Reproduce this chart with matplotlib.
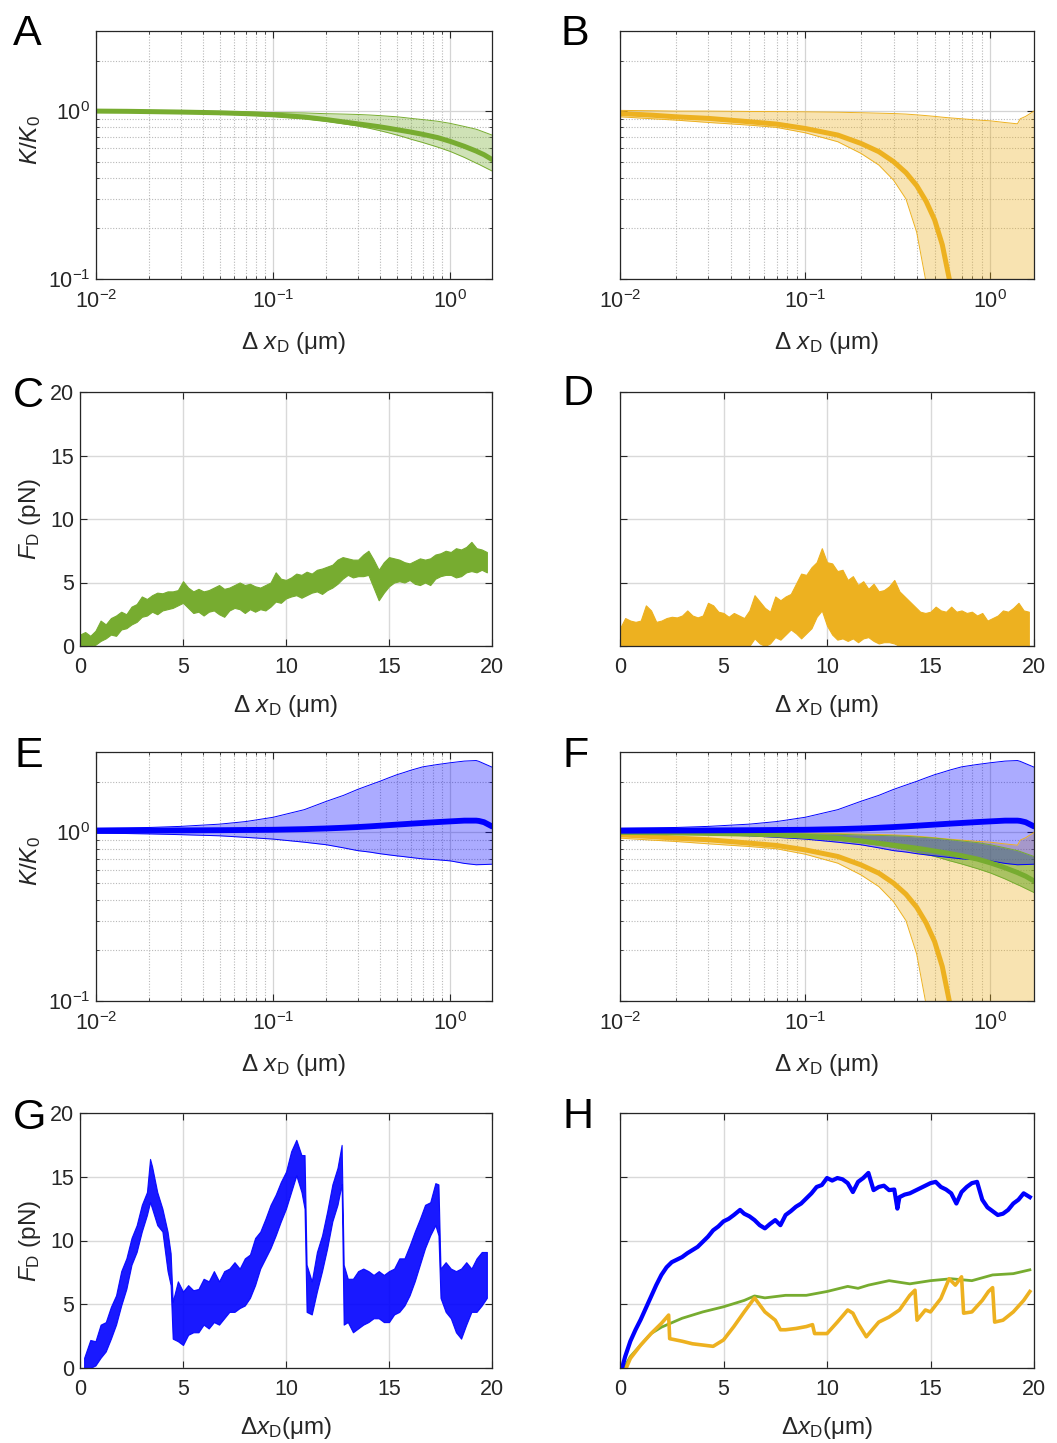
import matplotlib
matplotlib.use("Agg")
import matplotlib.pyplot as plt
import numpy as np
from matplotlib.ticker import LogLocator, NullFormatter

plt.rcParams["font.family"] = ["Liberation Sans", "DejaVu Sans"]
plt.rcParams["mathtext.fontset"] = "custom"
plt.rcParams["mathtext.rm"] = "Liberation Sans"
plt.rcParams["mathtext.it"] = "Liberation Sans:italic"
plt.rcParams["mathtext.bf"] = "Liberation Sans:bold"

GREEN = "#77AC30"
ORANGE = "#EDB120"
BLUE = "#0000FF"
INK = "#262626"

# --- K/K0 vs displacement (log-log), mean and band -----------------------
LOG_X = [0.01, 0.015, 0.02, 0.03, 0.05, 0.07, 0.1, 0.15, 0.2, 0.25, 0.3, 0.35,
         0.4, 0.45, 0.5, 0.55, 0.6, 0.7, 0.85, 1.0, 1.2, 1.4, 1.45, 1.55, 1.72]

GREEN_MID = [1.0, 0.997, 0.993, 0.987, 0.977, 0.966, 0.95, 0.922, 0.89, 0.862, 0.84, 0.822,
             0.806, 0.79, 0.775, 0.762, 0.75, 0.727, 0.695, 0.66, 0.617, 0.578, 0.568, 0.55, 0.515]
GREEN_HI = [1.005, 1.005, 1.0, 1.0, 0.995, 0.99, 0.98, 0.975, 0.965, 0.96, 0.955, 0.948,
            0.94, 0.932, 0.925, 0.915, 0.905, 0.89, 0.87, 0.845, 0.81, 0.78, 0.77, 0.75, 0.72]
GREEN_LO = [0.995, 0.99, 0.985, 0.978, 0.965, 0.95, 0.93, 0.9, 0.87, 0.84, 0.815, 0.79,
            0.765, 0.742, 0.72, 0.70, 0.68, 0.65, 0.61, 0.575, 0.53, 0.49, 0.482, 0.465, 0.44]

ORANGE_MID = [0.968, 0.945, 0.925, 0.905, 0.864, 0.837, 0.788, 0.72, 0.642, 0.573, 0.50, 0.43,
              0.36, 0.29, 0.225, 0.16, 0.1, 0.04, 0.02, 0.02, 0.02, 0.02, 0.02, 0.02, 0.02]
ORANGE_HI = [1.01, 1.005, 1.0, 1.0, 0.995, 0.993, 0.99, 0.985, 0.978, 0.972, 0.967, 0.96,
             0.95, 0.94, 0.93, 0.92, 0.912, 0.90, 0.885, 0.875, 0.855, 0.84, 0.90, 0.93, 1.0]
ORANGE_LO = [0.925, 0.90, 0.884, 0.856, 0.825, 0.80, 0.743, 0.657, 0.56, 0.477, 0.388, 0.30,
             0.19, 0.095, 0.05, 0.05, 0.05, 0.05, 0.05, 0.05, 0.05, 0.05, 0.05, 0.05, 0.05]

BLUE_MID = [1.023, 1.025, 1.026, 1.028, 1.031, 1.034, 1.037, 1.046, 1.056, 1.066, 1.076, 1.086,
            1.096, 1.105, 1.113, 1.12, 1.127, 1.138, 1.152, 1.163, 1.175, 1.175, 1.17, 1.15, 1.086]
BLUE_HI = [1.06, 1.065, 1.07, 1.086, 1.12, 1.16, 1.23, 1.365, 1.53, 1.66, 1.8, 1.91,
           2.01, 2.11, 2.2, 2.27, 2.34, 2.45, 2.53, 2.59, 2.65, 2.67, 2.64, 2.56, 2.44]
BLUE_LO = [0.99, 0.985, 0.98, 0.97, 0.955, 0.935, 0.913, 0.875, 0.845, 0.81, 0.78, 0.765,
           0.748, 0.736, 0.726, 0.718, 0.71, 0.697, 0.688, 0.678, 0.655, 0.643, 0.644, 0.645, 0.648]

# --- force traces (noise envelope: low / high) ----------------------------
TRACE_X = np.arange(0, 20, 0.25)

C_HI = [0.9, 1.1, 0.8, 1.2, 2.0, 1.7, 2.2, 2.4, 2.7, 2.5, 3.1, 3.3, 3.9, 3.7, 4.0, 4.2,
        4.15, 4.3, 4.3, 4.4, 5.1, 4.6, 4.3, 4.5, 4.3, 4.4, 4.6, 4.8, 4.5, 4.6, 4.8, 5.0,
        4.8, 4.9, 4.7, 4.6, 4.8, 5.0, 5.8, 5.3, 5.2, 5.4, 5.7, 5.6, 5.85, 5.7, 6.0, 6.1,
        6.25, 6.4, 6.8, 7.0, 6.9, 6.8, 6.8, 7.2, 7.5, 6.8, 6.0, 6.6, 7.0, 6.9, 6.8, 6.6,
        6.5, 6.7, 6.9, 6.8, 6.9, 7.2, 7.3, 7.5, 7.4, 7.7, 7.6, 7.8, 8.2, 7.7, 7.6, 7.4]
C_LO = [0.0, 0.0, 0.0, 0.1, 0.4, 0.6, 0.9, 0.8, 1.3, 1.4, 1.7, 1.9, 2.3, 2.4, 2.7, 2.5,
        2.8, 2.9, 3.0, 3.2, 3.4, 3.0, 2.6, 2.7, 2.4, 2.7, 2.8, 2.5, 2.3, 2.8, 3.0, 2.9,
        2.6, 2.9, 2.7, 2.9, 2.8, 3.1, 3.5, 3.4, 3.75, 3.9, 4.0, 3.8, 4.0, 4.2, 4.3, 4.1,
        4.4, 4.6, 4.9, 5.3, 5.6, 5.4, 5.5, 5.5, 5.6, 4.6, 3.6, 4.2, 4.7, 5.0, 5.1, 5.0,
        5.2, 4.9, 4.8, 5.0, 4.8, 5.3, 5.5, 5.6, 5.6, 5.4, 5.5, 5.8, 5.9, 5.8, 6.0, 5.8]

D_HI = [1.4, 2.2, 2.0, 1.9, 2.0, 3.2, 2.8, 1.9, 2.0, 2.2, 2.3, 2.25, 2.4, 2.8, 2.4, 2.25,
        2.4, 3.4, 3.2, 2.7, 2.6, 2.3, 2.6, 2.4, 2.2, 2.8, 4.0, 3.5, 3.0, 2.7, 3.9, 3.6,
        3.9, 4.1, 4.9, 5.7, 5.6, 6.2, 6.6, 7.7, 6.6, 6.5, 5.9, 6.0, 5.2, 5.5, 4.8, 5.1,
        4.5, 4.9, 4.3, 4.4, 4.7, 5.2, 4.3, 3.9, 3.5, 3.1, 2.7, 2.6, 2.7, 3.1, 2.8, 2.7,
        3.1, 2.7, 2.8, 2.6, 2.7, 2.4, 2.6, 2.0, 2.2, 2.4, 2.8, 2.7, 3.0, 3.4, 2.8, 2.7]
D_LO = [0.0] * 26 + [0.6, 0.2, 0.0, 0.2, 0.7, 0.5, 0.9, 1.3, 1.0, 0.6, 1.0, 1.4, 2.3, 2.8,
                     1.6, 0.9, 0.5, 0.6, 0.4, 0.6, 0.3, 0.6, 0.7, 0.4, 0.2, 0.3, 0.3, 0.2] + [0.0] * 26

G_X = [0.2, 0.5, 0.75, 1.0, 1.25, 1.5, 1.75, 2.0, 2.25, 2.5, 2.75, 3.0, 3.25, 3.4, 3.5,
       3.75, 4.0, 4.25, 4.4, 4.5, 4.75, 5.0, 5.25, 5.5, 5.75, 6.0, 6.25, 6.5, 6.75, 7.0,
       7.25, 7.5, 7.75, 8.0, 8.25, 8.5, 8.75, 9.0, 9.25, 9.5, 9.75, 10.0, 10.25, 10.5, 10.75,
       10.9, 11.0, 11.25, 11.5, 11.75, 12.0, 12.25, 12.5, 12.7, 12.8, 13.0, 13.25, 13.5, 13.75, 14.0,
       14.25, 14.5, 14.75, 15.0, 15.25, 15.5, 15.75, 16.0, 16.25, 16.5, 16.75, 17.0, 17.25, 17.4, 17.5,
       17.75, 18.0, 18.25, 18.5, 18.75, 19.0, 19.25, 19.5, 19.75]
G_HI = [0.8, 2.2, 2.1, 3.4, 3.6, 4.8, 5.7, 7.6, 8.6, 10.2, 11.2, 12.8, 13.8, 16.4, 15.8,
        13.8, 12.5, 10.7, 9.0, 5.2, 6.8, 6.0, 6.5, 6.1, 6.2, 7.0, 6.8, 7.6, 6.8, 7.6,
        7.8, 8.3, 7.8, 8.6, 8.9, 10.2, 10.7, 11.7, 12.8, 13.6, 14.6, 15.4, 17.0, 17.9, 16.7,
        16.7, 8.1, 6.8, 9.1, 10.4, 12.3, 14.4, 15.7, 17.5, 8.1, 7.0, 7.0, 7.6, 7.8, 7.6,
        7.3, 7.6, 7.3, 7.6, 7.8, 8.6, 8.6, 9.6, 10.7, 11.7, 12.8, 13.0, 14.5, 14.4, 7.8,
        8.3, 7.8, 7.6, 7.8, 8.3, 7.8, 8.6, 9.1, 9.1]
G_LO = [0.0, 0.0, 0.2, 0.8, 1.3, 2.3, 3.4, 4.9, 6.2, 8.1, 9.1, 10.7, 12.0, 13.0, 12.5,
        11.2, 10.7, 7.6, 6.5, 2.3, 2.1, 1.8, 2.6, 2.8, 2.8, 3.4, 3.1, 3.6, 3.4, 3.9,
        4.4, 4.4, 4.7, 4.9, 5.5, 6.5, 7.8, 8.6, 9.4, 10.4, 11.5, 12.5, 13.8, 15.1, 13.8,
        12.5, 4.4, 4.2, 6.0, 7.6, 9.4, 11.5, 12.8, 14.4, 3.4, 3.6, 2.8, 3.1, 3.4, 3.6,
        3.9, 3.9, 3.6, 3.6, 4.2, 4.4, 4.9, 5.7, 6.8, 8.1, 9.4, 10.4, 11.2, 10.4, 5.5,
        4.4, 3.9, 2.8, 2.3, 3.4, 4.4, 4.4, 4.9, 5.5]

# --- panel H: three averaged traces ---------------------------------------
H_BLUE_X = [0.1, 0.25, 0.5, 0.75, 1, 1.25, 1.5, 1.75, 2, 2.25, 2.5, 2.75, 3, 3.25, 3.5, 3.75,
            4, 4.25, 4.5, 4.75, 5, 5.25, 5.5, 5.8, 6, 6.25, 6.5, 6.75, 7, 7.25, 7.5, 7.75, 8,
            8.25, 8.5, 8.75, 9, 9.25, 9.5, 9.75, 10, 10.25, 10.5, 10.75, 11, 11.25, 11.5, 11.75,
            12, 12.25, 12.5, 12.75, 13, 13.25, 13.4, 13.5, 13.75, 14, 14.25, 14.5, 14.75, 15,
            15.25, 15.5, 15.75, 16, 16.25, 16.5, 16.75, 17, 17.25, 17.5, 17.75, 18, 18.25,
            18.5, 18.75, 19, 19.25, 19.5, 19.8]
H_BLUE_Y = [0.0, 0.9, 2.1, 3.0, 3.8, 4.7, 5.6, 6.5, 7.3, 7.9, 8.3, 8.5, 8.7, 9.0, 9.25, 9.5,
            9.9, 10.3, 10.8, 11.1, 11.5, 11.7, 12.0, 12.4, 12.1, 11.9, 11.6, 11.2, 10.95, 11.3,
            11.6, 11.2, 12.0, 12.3, 12.65, 12.9, 13.3, 13.7, 14.2, 14.35, 14.9, 14.7, 14.9,
            14.8, 14.5, 13.8, 14.6, 14.9, 15.3, 13.95, 14.2, 14.3, 13.95, 14.0, 12.5, 13.4,
            13.6, 13.7, 13.9, 14.1, 14.3, 14.5, 14.6, 14.2, 14.0, 13.7, 12.9, 13.8, 14.2,
            14.5, 14.6, 13.2, 12.6, 12.3, 12.0, 12.1, 12.4, 12.9, 13.2, 13.7, 13.4]
H_GREEN_X = [0.2, 0.5, 1, 1.5, 2, 2.5, 3, 4, 5, 6, 6.5, 7, 8, 9, 10, 11, 11.5, 12, 13, 14,
             15, 16, 17, 18, 19, 19.8]
H_GREEN_Y = [0.0, 0.9, 1.8, 2.7, 3.2, 3.55, 3.9, 4.4, 4.8, 5.3, 5.65, 5.5, 5.7, 5.7, 6.0,
             6.4, 6.25, 6.5, 6.85, 6.6, 6.85, 7.0, 6.85, 7.3, 7.4, 7.7]
H_ORANGE_X = [0.3, 0.5, 1, 1.5, 2, 2.35, 2.4, 3, 3.5, 4, 4.5, 5, 5.5, 6, 6.5, 7, 7.5, 7.75,
              8, 8.5, 9, 9.3, 9.4, 10, 10.5, 11, 11.25, 11.5, 11.9, 12.5, 13, 13.5, 14,
              14.25, 14.35, 14.75, 15, 15.5, 15.9, 16.2, 16.5, 16.6, 17, 17.5, 17.8, 18.0,
              18.1, 18.5, 19, 19.5, 19.8]
H_ORANGE_Y = [0.0, 0.75, 1.8, 2.7, 3.5, 4.15, 2.3, 2.1, 1.9, 1.8, 1.7, 2.2, 3.25, 4.4, 5.5,
              4.4, 3.75, 3.0, 3.0, 3.1, 3.25, 3.4, 2.7, 2.7, 3.6, 4.55, 4.3, 3.5, 2.45, 3.6,
              4.0, 4.55, 5.7, 6.1, 3.75, 4.55, 4.4, 5.45, 7.0, 6.5, 7.15, 4.3, 4.4, 5.3,
              6.0, 6.3, 3.6, 3.75, 4.4, 5.3, 6.0]

LIN_TICKS = [0, 5, 10, 15, 20]
LOG_XTICKS = [0.01, 0.1, 1.0]
LOG_XLABELS = [r"$\mathregular{10^{-2}}$", r"$\mathregular{10^{-1}}$", r"$\mathregular{10^{0}}$"]
LOG_YTICKS = [0.1, 1.0]
LOG_YLABELS = [r"$\mathregular{10^{-1}}$", r"$\mathregular{10^{0}}$"]

XLABEL_SP = r"Δ $x_{\mathregular{D}}$ (μm)"
XLABEL_NS = r"Δ$x_{\mathregular{D}}$(μm)"
YLABEL_K = r"$K/K_{0}$"
YLABEL_F = r"$F_{\mathregular{D}}$ (pN)"

W, H = 1057, 1443
fig = plt.figure(figsize=(W / 100, H / 100), dpi=100)


def add_ax(l, t, r, b):
    return fig.add_axes([l / W, 1 - b / H, (r - l) / W, (b - t) / H])


def base_style(ax):
    for s in ax.spines.values():
        s.set_color(INK)
        s.set_linewidth(0.9)
    ax.tick_params(which="both", direction="in", top=True, right=True, colors=INK,
                   labelsize=15.5, labelcolor=INK)
    ax.tick_params(which="major", length=5, width=0.8)
    ax.tick_params(which="minor", length=2.5, width=0.6)
    ax.tick_params(axis="x", pad=8)
    ax.tick_params(axis="y", pad=4)
    ax.set_axisbelow(True)


def log_panel(ax, bands, show_y):
    ax.set_xscale("log")
    ax.set_yscale("log")
    for lo, mid, hi, color, alpha, lw in bands:
        ax.fill_between(LOG_X, lo, hi, color=color, alpha=alpha, linewidth=0)
        ax.plot(LOG_X, lo, color=color, lw=0.7)
        ax.plot(LOG_X, hi, color=color, lw=0.7)
    for lo, mid, hi, color, alpha, lw in bands:
        ax.plot(LOG_X, mid, color=color, lw=lw, solid_capstyle="round")
    ax.set_xlim(0.01, 1.72)
    ax.set_ylim(0.1, 3.0)
    ax.set_xticks(LOG_XTICKS)
    ax.set_xticklabels(LOG_XLABELS)
    ax.set_yticks(LOG_YTICKS)
    ax.set_yticklabels(LOG_YLABELS if show_y else [])
    ax.xaxis.set_minor_locator(LogLocator(base=10, subs=np.arange(2, 10)))
    ax.yaxis.set_minor_locator(LogLocator(base=10, subs=np.arange(2, 10)))
    ax.xaxis.set_minor_formatter(NullFormatter())
    ax.yaxis.set_minor_formatter(NullFormatter())
    ax.grid(True, which="major", color="#d4d4d4", lw=0.9, ls="-")
    ax.grid(True, which="minor", color="#b8b8b8", lw=0.8, ls=(0, (1, 1.5)))
    base_style(ax)
    ax.set_xlabel(XLABEL_SP, fontsize=17.5, color=INK)
    ax.xaxis.set_label_coords(0.5, -0.205)
    if show_y:
        ax.set_ylabel(YLABEL_K, fontsize=17.5, color=INK)
        ax.yaxis.set_label_coords(-0.135, 0.56)


def lin_panel(ax, show_y, xlabel):
    ax.set_xlim(0, 20)
    ax.set_ylim(0, 20)
    ax.set_xticks(LIN_TICKS)
    ax.set_yticks(LIN_TICKS)
    if not show_y:
        ax.set_yticklabels([])
    ax.grid(True, color="#d9d9d9", lw=1.0)
    base_style(ax)
    ax.set_xlabel(xlabel, fontsize=17.5, color=INK)
    ax.xaxis.set_label_coords(0.5, -0.185)
    if show_y:
        ax.set_ylabel(YLABEL_F, fontsize=17.5, color=INK)
        ax.yaxis.set_label_coords(-0.09, 0.5)


# A
axA = add_ax(96, 31, 492, 279)
log_panel(axA, [(GREEN_LO, GREEN_MID, GREEN_HI, GREEN, 0.35, 3.6)], True)
# B
axB = add_ax(620, 31, 1034, 279)
log_panel(axB, [(ORANGE_LO, ORANGE_MID, ORANGE_HI, ORANGE, 0.35, 3.6)], False)

# C
axC = add_ax(80, 392, 492, 646)
axC.fill_between(TRACE_X, C_LO, C_HI, color=GREEN, lw=0.8, edgecolor=GREEN)
lin_panel(axC, True, XLABEL_SP)
# D
axD = add_ax(620, 392, 1034, 646)
axD.fill_between(TRACE_X, D_LO, D_HI, color=ORANGE, lw=0.8, edgecolor=ORANGE)
lin_panel(axD, False, XLABEL_SP)

# E
axE = add_ax(96, 752, 492, 1001)
log_panel(axE, [(BLUE_LO, BLUE_MID, BLUE_HI, BLUE, 0.33, 4.2)], True)
# F: orange underneath, green over it, blue band on top
axF = add_ax(620, 752, 1034, 1001)
log_panel(axF, [(ORANGE_LO, ORANGE_MID, ORANGE_HI, ORANGE, 0.35, 3.6),
                (GREEN_LO, GREEN_MID, GREEN_HI, GREEN, 0.6, 3.6),
                (BLUE_LO, BLUE_MID, BLUE_HI, BLUE, 0.33, 4.2)], False)

# G
axG = add_ax(80, 1113, 492, 1368)
axG.fill_between(G_X, G_LO, G_HI, color=BLUE, lw=0.8, edgecolor=BLUE, alpha=0.9)
lin_panel(axG, True, XLABEL_NS)
# H
axH = add_ax(620, 1113, 1034, 1368)
axH.plot(H_GREEN_X, H_GREEN_Y, color=GREEN, lw=2.0)
axH.plot(H_ORANGE_X, H_ORANGE_Y, color=ORANGE, lw=2.6)
axH.plot(H_BLUE_X, H_BLUE_Y, color=BLUE, lw=3.0)
lin_panel(axH, False, XLABEL_NS)

# panel letters
for letter, x, y in [("A", 13, 45), ("B", 561, 45), ("C", 13, 407), ("D", 562, 405),
                     ("E", 14, 767), ("F", 562, 767), ("G", 13, 1129), ("H", 562, 1128)]:
    fig.text(x / W, 1 - y / H, letter, fontsize=31, ha="left", va="baseline", color="black")

fig.savefig("out.png", dpi=100)
